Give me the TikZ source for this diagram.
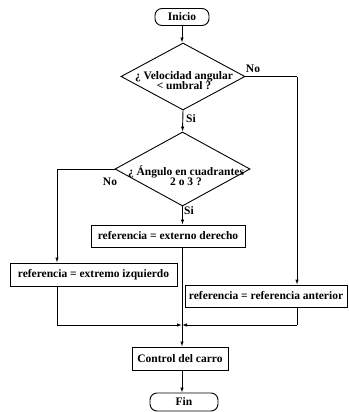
\documentclass[tikz,border=0pt]{standalone}
\usepackage{fontspec}
\setmainfont{Liberation Serif}
\usetikzlibrary{shapes.geometric,arrows.meta}
\begin{document}
\begin{tikzpicture}[x=1pt,y=-1pt,
  every node/.style={font=\fontsize{11.5}{12}\selectfont\bfseries},
  term/.style={draw,line width=0.9pt,rounded corners=7pt,inner sep=0pt},
  proc/.style={draw,line width=0.9pt,inner sep=0pt},
  dec/.style={draw,line width=0.9pt,diamond,inner sep=0pt},
  conn/.style={line width=0.9pt},
  arr/.style={conn,-{Latex[length=5pt,width=3.5pt]}},
  lbl/.style={inner sep=1pt}]
\useasboundingbox (0,0) rectangle (348,412);
\node[term,minimum width=54pt,minimum height=17pt] (ini) at (182,17) {Inicio};
\node[dec,minimum width=124pt,minimum height=67pt] (d1) at (183,76.5) {};
\node[align=center] (t1) at (184,81) {¿ Velocidad angular\\[-2pt]< umbral ?};
\node[dec,minimum width=135pt,minimum height=74pt] (d2) at (182.5,169) {};
\node[align=center] (t2) at (186,176) {¿ Ángulo en cuadrantes\\[-2pt]2 o 3 ?};
\node[proc,minimum width=154pt,minimum height=22pt] (der) at (168,236) {referencia = externo derecho};
\node[proc,minimum width=167pt,minimum height=23pt] (izq) at (93.5,274.5) {referencia = extremo izquierdo};
\node[proc,minimum width=162pt,minimum height=22pt] (ant) at (266,296) {referencia = referencia anterior};
\node[proc,minimum width=96pt,minimum height=23pt] (ctl) at (180,358.5) {Control del carro};
\node[term,minimum width=68pt,minimum height=18pt] (fin) at (184,402) {Fin};
\coordinate (r1) at (297,76.5);
\coordinate (l1) at (57,169);
\coordinate (j) at (182,325);
\coordinate (jl) at (57,325);
\coordinate (jr) at (297,325);
\draw[arr] (ini.south) -- (ini.south |- d1.north);
\draw[arr] (d1.south) -- (d2.north);
\node[lbl] (si1) at (191,119) {Si};
\draw[conn] (d1.east) -- (r1);
\draw[arr] (r1) -- (r1 |- ant.north);
\node[lbl] (no1) at (253,69) {No};
\draw[conn] (d2.west) -- (l1);
\draw[arr] (l1) -- (l1 |- izq.north);
\node[lbl] (no2) at (110,182) {No};
\draw[arr] (d2.south) -- (d2.south |- der.north);
\node[lbl] (si2) at (189,211) {Si};
\draw[conn] (jl |- izq.south) -- (jl);
\draw[arr] (jl) -- (j);
\draw[conn] (jr |- ant.south) -- (jr);
\draw[arr] (jr) -- (j);
\draw[arr] (j |- der.south) -- (j |- ctl.north);
\draw[arr] (j |- ctl.south) -- (j |- fin.north);
\end{tikzpicture}
\end{document}
